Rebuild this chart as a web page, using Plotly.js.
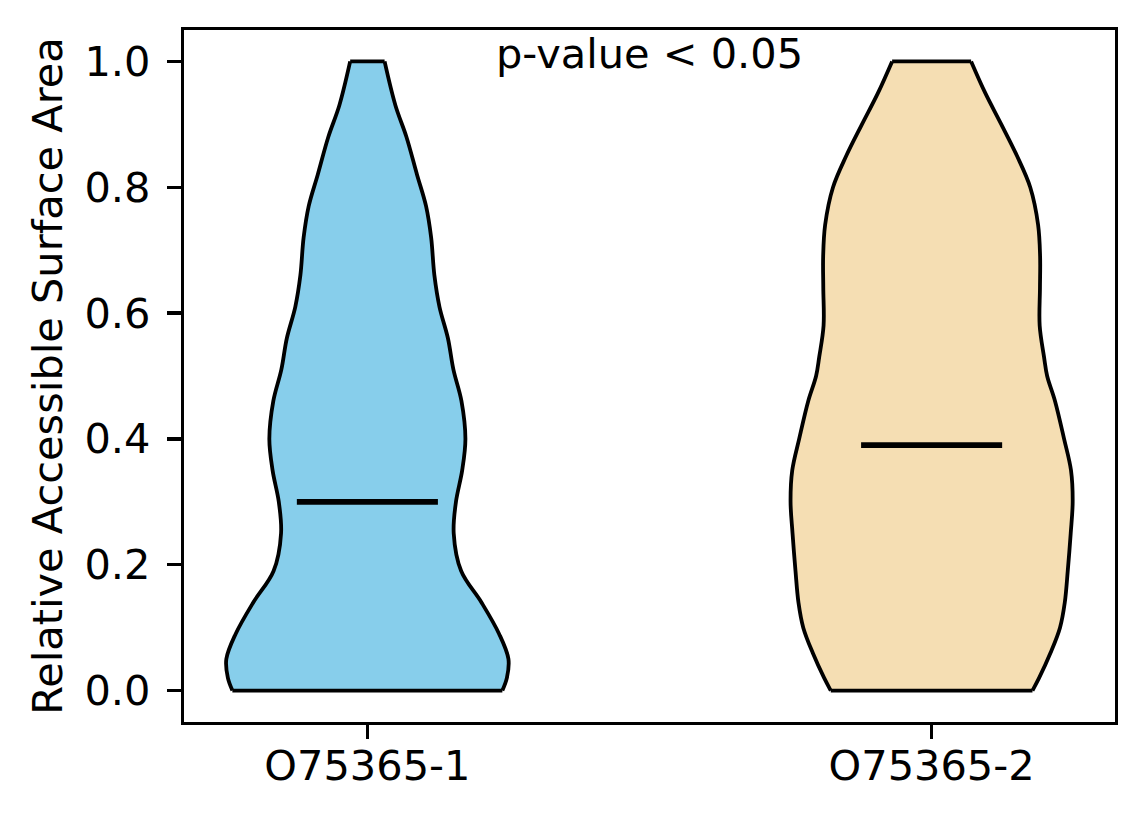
<!DOCTYPE html>
<html>
<head>
<meta charset="utf-8">
<script src="https://cdn.plot.ly/plotly-3.0.1.min.js"></script>
<style>html,body{margin:0;padding:0;background:#fff;}#chart{width:1144px;height:824px;}</style>
</head>
<body>
<div id="chart"></div>
<script>
// ---- data ----
const categories = ['O75365-1', 'O75365-2'];
const colors = ['#87CEEB', '#F5DEB3'];
const medians = [0.30, 0.39];
// KDE profile (normalized density, max = 1) at given RSA values
const v1Y = [0.00, 0.02, 0.05, 0.09, 0.14, 0.19, 0.25, 0.30, 0.35, 0.40, 0.46, 0.51, 0.56, 0.61, 0.66, 0.72, 0.77, 0.82, 0.88, 0.93, 1.00];
const v1D = [0.957, 0.989, 1.0, 0.934, 0.809, 0.665, 0.612, 0.628, 0.672, 0.695, 0.667, 0.61, 0.571, 0.511, 0.475, 0.452, 0.416, 0.352, 0.277, 0.199, 0.122];
const v2Y = [0.00, 0.02, 0.06, 0.10, 0.14, 0.19, 0.25, 0.30, 0.35, 0.40, 0.46, 0.50, 0.53, 0.58, 0.64, 0.69, 0.74, 0.80, 0.85, 0.90, 0.95, 1.00];
const v2D = [0.715, 0.762, 0.843, 0.910, 0.944, 0.965, 0.986, 1.0, 0.988, 0.939, 0.875, 0.819, 0.797, 0.766, 0.768, 0.769, 0.755, 0.699, 0.605, 0.494, 0.380, 0.280];
const yTicks = [0.0, 0.2, 0.4, 0.6, 0.8, 1.0];
const annotationText = 'p-value < 0.05';
const yTitle = 'Relative Accessible Surface Area';

// ---- build ----
const profiles = [[v1Y, v1D], [v2Y, v2D]];
const halfWidth = 0.25;
const outline = {color: '#000000', width: 3.8};
const traces = [];
profiles.forEach(function(p, i) {
  const pos = i + 1;
  const ys = p[0], ds = p[1];
  const left = ds.map(d => pos - halfWidth * d);
  const right = ds.map(d => pos + halfWidth * d);
  traces.push({type: 'scatter', mode: 'lines', x: left, y: ys,
    line: {color: outline.color, width: outline.width, shape: 'spline', smoothing: 1},
    hoverinfo: 'skip', showlegend: false});
  traces.push({type: 'scatter', mode: 'lines', x: right, y: ys, fill: 'tonextx', fillcolor: colors[i],
    line: {color: outline.color, width: outline.width, shape: 'spline', smoothing: 1},
    hoverinfo: 'skip', showlegend: false});
  const n = ys.length - 1;
  traces.push({type: 'scatter', mode: 'lines', x: [left[0], right[0]], y: [ys[0], ys[0]],
    line: {color: outline.color, width: outline.width}, hoverinfo: 'skip', showlegend: false});
  traces.push({type: 'scatter', mode: 'lines', x: [left[n], right[n]], y: [ys[n], ys[n]],
    line: {color: outline.color, width: outline.width}, hoverinfo: 'skip', showlegend: false});
  traces.push({type: 'scatter', mode: 'lines', x: [pos - halfWidth / 2, pos + halfWidth / 2], y: [medians[i], medians[i]],
    line: {color: '#000000', width: 5.8}, hoverinfo: 'skip', showlegend: false});
});

const font = {family: 'DejaVu Sans, sans-serif', size: 41.5, color: '#000000'};
const layout = {
  width: 1144, height: 824,
  margin: {l: 184, r: 29, t: 30, b: 102, pad: 0},
  paper_bgcolor: '#ffffff', plot_bgcolor: '#ffffff',
  font: font,
  showlegend: false,
  xaxis: {
    range: [0.675, 2.325], tickmode: 'array', tickvals: [1, 2], ticktext: categories,
    showline: true, mirror: true, linecolor: '#000', linewidth: 3.3,
    ticks: 'outside', ticklen: 14, tickwidth: 3.3, tickcolor: '#000',
    showgrid: false, zeroline: false, tickfont: font, ticklabelstandoff: -9
  },
  yaxis: {
    range: [-0.05, 1.05], tickmode: 'array', tickvals: yTicks, ticktext: yTicks.map(v => v.toFixed(1)),
    showline: true, mirror: true, linecolor: '#000', linewidth: 3.3,
    ticks: 'outside', ticklen: 14, tickwidth: 3.3, tickcolor: '#000',
    showgrid: false, zeroline: false, tickfont: font, ticklabelstandoff: 8,
    title: {text: yTitle, font: font, standoff: 10}
  },
  annotations: [{
    text: annotationText, xref: 'paper', yref: 'y', x: 0.5, y: 1.013,
    xanchor: 'center', yanchor: 'middle', showarrow: false, font: font
  }]
};
Plotly.newPlot('chart', traces, layout, {staticPlot: true, displayModeBar: false});
</script>
</body>
</html>
